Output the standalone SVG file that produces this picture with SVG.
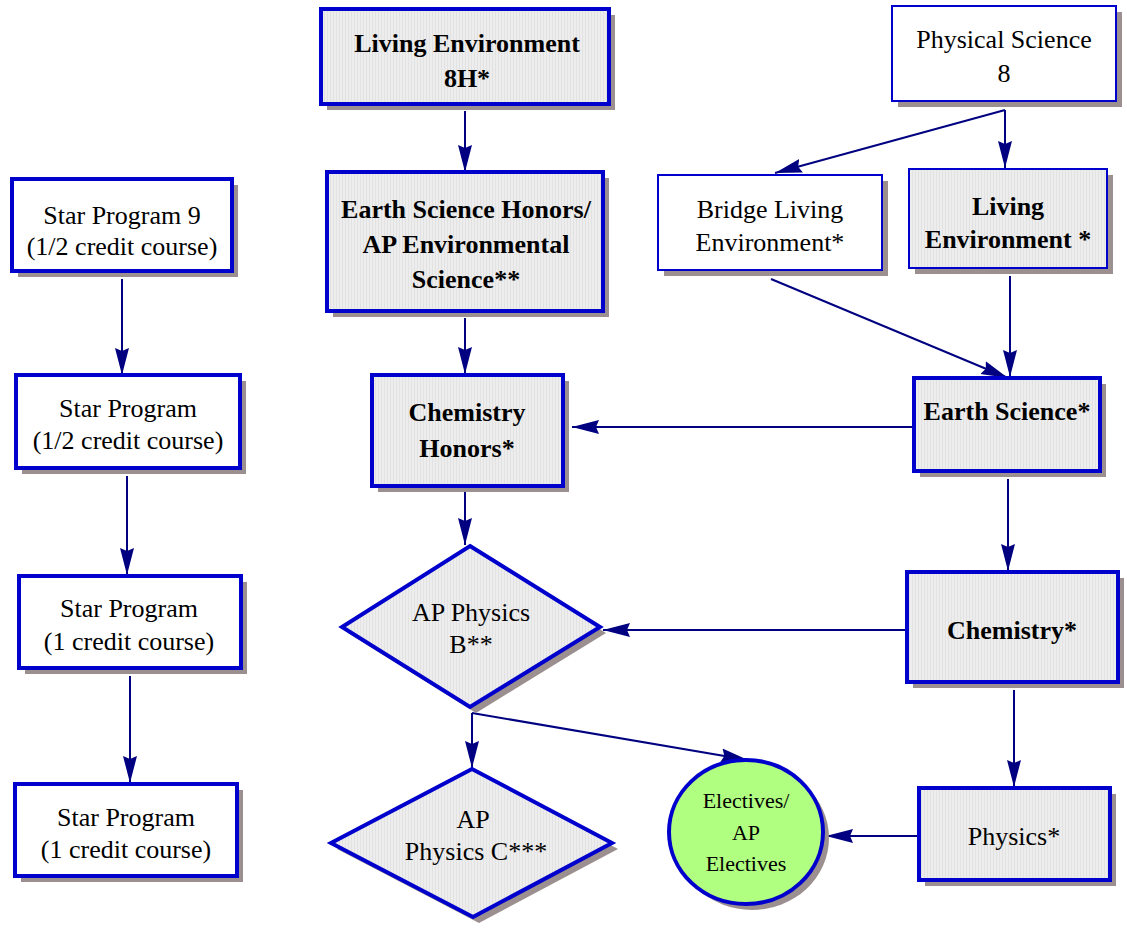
<svg xmlns="http://www.w3.org/2000/svg" width="1127" height="930" viewBox="0 0 1127 930">
<defs>
<pattern id="stripes" width="3" height="4" patternUnits="userSpaceOnUse">
<rect width="3" height="4" fill="#ededed"/>
<rect width="1" height="4" fill="#e2e2e2"/>
</pattern>
<marker id="arr" markerUnits="userSpaceOnUse" markerWidth="28" markerHeight="16" viewBox="0 0 28 16" refX="27" refY="8" orient="auto">
<path d="M0,1 L27,8 L0,15 L3,8 z" fill="#000080"/>
</marker>
</defs>
<style>
.sh{fill:#9b8f8f;stroke:none}
.thick{stroke:#0000cc;stroke-width:4}
.thin{stroke:#0000cc;stroke-width:2}
.gray{fill:url(#stripes)}
.white{fill:#ffffff}
.t{font-family:"Liberation Serif","Times New Roman",serif;font-size:26px;fill:#000;text-anchor:middle}
.b{font-weight:bold}
.e{font-size:22px}
.c{fill:none;stroke:#000080;stroke-width:2;marker-end:url(#arr)}
</style>
<rect width="1127" height="930" fill="#ffffff"/>
<g id="connectors">
<path class="c" d="M465,111 L465,172"/>
<path class="c" d="M1005,110 L775,173"/>
<path class="c" d="M1005,110 L1005,168"/>
<path class="c" d="M122,279 L122,375"/>
<path class="c" d="M465,318 L465,374"/>
<path class="c" d="M771,279 L1008,378"/>
<path class="c" d="M1010,276 L1010,377"/>
<path class="c" d="M914,427 L572,427"/>
<path class="c" d="M127,476 L127,575"/>
<path class="c" d="M465,492 L465,545"/>
<path class="c" d="M1008,479 L1008,571"/>
<path class="c" d="M907,630 L603,630"/>
<path class="c" d="M130,676 L130,783"/>
<path class="c" d="M472,713 L472,768"/>
<path class="c" d="M472,713 L748,760"/>
<path class="c" d="M1014,690 L1014,787"/>
<path class="c" d="M919,836 L826,836"/>
</g>
<g id="n-le8h">
<rect class="sh" x="327" y="15" width="288" height="95"/>
<rect class="gray thick" x="321" y="9" width="288" height="95"/>
<text class="t b" x="467" y="52">Living Environment</text>
<text class="t b" x="467" y="87">8H*</text>
</g>
<g id="n-ps8">
<rect class="sh" x="898" y="12" width="224" height="95"/>
<rect class="white thin" x="892" y="6" width="224" height="95"/>
<text class="t" x="1004" y="48">Physical Science</text>
<text class="t" x="1004" y="82">8</text>
</g>
<g id="n-star9">
<rect class="sh" x="18" y="185" width="220" height="92"/>
<rect class="white thick" x="12" y="179" width="220" height="92"/>
<text class="t" x="122" y="224">Star Program 9</text>
<text class="t" x="122" y="255">(1/2 credit course)</text>
</g>
<g id="n-esh">
<rect class="sh" x="333" y="178" width="276" height="139"/>
<rect class="gray thick" x="327" y="172" width="276" height="139"/>
<text class="t b" x="466" y="218">Earth Science Honors/</text>
<text class="t b" x="466" y="253">AP Environmental</text>
<text class="t b" x="466" y="288">Science**</text>
</g>
<g id="n-bridge">
<rect class="sh" x="664" y="181" width="224" height="95"/>
<rect class="white thin" x="658" y="175" width="224" height="95"/>
<text class="t" x="770" y="218">Bridge Living</text>
<text class="t" x="770" y="251">Environment*</text>
</g>
<g id="n-le">
<rect class="sh" x="915" y="175" width="198" height="99"/>
<rect class="gray thin" x="909" y="169" width="198" height="99"/>
<text class="t b" x="1008" y="215">Living</text>
<text class="t b" x="1008" y="248">Environment *</text>
</g>
<g id="n-star2">
<rect class="sh" x="22" y="381" width="224" height="93"/>
<rect class="white thick" x="16" y="375" width="224" height="93"/>
<text class="t" x="128" y="417">Star Program</text>
<text class="t" x="128" y="449">(1/2 credit course)</text>
</g>
<g id="n-chemh">
<rect class="sh" x="378" y="381" width="191" height="111"/>
<rect class="gray thick" x="372" y="375" width="191" height="111"/>
<text class="t b" x="467" y="421">Chemistry</text>
<text class="t b" x="467" y="457">Honors*</text>
</g>
<g id="n-es">
<rect class="sh" x="920" y="384" width="186" height="93"/>
<rect class="gray thick" x="914" y="378" width="186" height="93"/>
<text class="t b" x="1007" y="420">Earth Science*</text>
</g>
<g id="n-star3">
<rect class="sh" x="25" y="582" width="222" height="92"/>
<rect class="white thick" x="19" y="576" width="222" height="92"/>
<text class="t" x="129" y="617">Star Program</text>
<text class="t" x="129" y="650">(1 credit course)</text>
</g>
<g id="n-apb">
<polygon class="sh" points="476,552 606,633 476,713 348,633"/>
<polygon class="gray thick" points="470,546 600,627 470,707 342,627" fill="url(#stripes)"/>
<text class="t" x="471" y="621">AP Physics</text>
<text class="t" x="471" y="653">B**</text>
</g>
<g id="n-chem">
<rect class="sh" x="913" y="578" width="211" height="110"/>
<rect class="gray thick" x="907" y="572" width="211" height="110"/>
<text class="t b" x="1012" y="639">Chemistry*</text>
</g>
<g id="n-star4">
<rect class="sh" x="21" y="790" width="222" height="92"/>
<rect class="white thick" x="15" y="784" width="222" height="92"/>
<text class="t" x="126" y="826">Star Program</text>
<text class="t" x="126" y="858">(1 credit course)</text>
</g>
<g id="n-apc">
<polygon class="sh" points="478,775 618,849 479,923 337,849"/>
<polygon class="gray thick" points="472,769 612,843 473,917 331,843"/>
<text class="t" x="473" y="828">AP</text>
<text class="t" x="476" y="860">Physics C***</text>
</g>
<g id="n-electives">
<ellipse class="sh" cx="752" cy="838" rx="77" ry="72"/>
<ellipse fill="#b0ff80" class="thick" cx="746" cy="832" rx="77" ry="72"/>
<text class="t e" x="746" y="808">Electives/</text>
<text class="t e" x="746" y="840">AP</text>
<text class="t e" x="746" y="871">Electives</text>
</g>
<g id="n-physics">
<rect class="sh" x="925" y="794" width="191" height="92"/>
<rect class="gray thick" x="919" y="788" width="191" height="92"/>
<text class="t" x="1014" y="845">Physics*</text>
</g>
</svg>
